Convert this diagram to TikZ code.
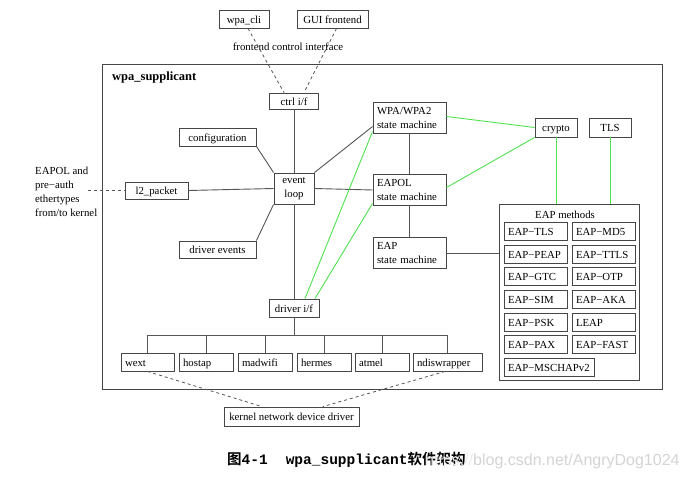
\documentclass[tikz,border=0pt]{standalone}
\usepackage{fontspec}
\setmainfont{Liberation Serif}
\newfontfamily\cjk{Noto Sans CJK SC}[BoldFont={Noto Sans CJK SC Bold}]
\newfontfamily\capmono{Liberation Mono}
\newfontfamily\wmfont{Liberation Sans}
\usetikzlibrary{calc}
\definecolor{linegray}{RGB}{85,85,85}
\definecolor{boxgray}{RGB}{70,70,70}
\definecolor{lgreen}{RGB}{80,225,80}
\definecolor{wmgray}{RGB}{212,212,212}
\definecolor{wmlight}{RGB}{238,238,238}
\tikzset{
 mbox/.style={draw=boxgray, line width=0.9pt, rectangle, inner sep=0pt, font=\fontsize{10.8}{13.5}\selectfont},
 box/.style={mbox, text height=9.5pt, text depth=1pt},
 lbox/.style={box, align=left, inner xsep=4pt, inner ysep=0pt},
 mlbox/.style={mbox, align=left, inner xsep=4pt, inner ysep=0pt, yshift=-1.5pt},
 txt/.style={inner sep=0pt, font=\fontsize{10.8}{13.5}\selectfont},
 conn/.style={draw=linegray, line width=0.9pt},
 gconn/.style={draw=lgreen, line width=0.9pt},
 dconn/.style={draw=linegray, line width=0.8pt, dash pattern=on 3pt off 3pt},
}
\begin{document}
\begin{tikzpicture}[x=1pt,y=-1pt]
\useasboundingbox[fill=white] (0,0) rectangle (686,481);

% frontends
\node[box, minimum width=50, minimum height=18] (cli) at (244,19) {wpa\_cli};
\node[box, minimum width=71, minimum height=18] (gui) at (332.5,19) {GUI frontend};
\node[txt] (fci) at (288,47) {frontend control interface};

% container
\node[mbox, minimum width=560, minimum height=325, anchor=north west] (sup) at (102,64) {};
\node[anchor=west, inner sep=0pt, font=\bfseries\fontsize{12.5}{14}\selectfont] (suplabel) at (112,77) {wpa\_supplicant};

\node[box, minimum width=49, minimum height=16] (ctrl) at (294,101) {ctrl i/f};
\node[box, minimum width=77, minimum height=18] (conf) at (217.5,137) {configuration};
\node[box, minimum width=63, minimum height=17] (l2) at (156.5,190.5) {l2\_packet};
\node[mbox, minimum width=40, minimum height=31, align=center] (evt) at (294,188.5) {event\\loop};
\node[box, minimum width=77, minimum height=17] (dev) at (217.5,249.5) {driver events};

\node[mlbox, text width=65pt, minimum height=31] (wpa) at (409.5,116.5) {WPA/WPA2\\state machine};
\node[mlbox, text width=65pt, minimum height=31] (eapol) at (409.5,188.5) {EAPOL\\state machine};
\node[mlbox, text width=65pt, minimum height=31] (eap) at (409.5,251.5) {EAP\\state machine};

\node[box, minimum width=42, minimum height=19] (crypto) at (556,127.5) {crypto};
\node[box, minimum width=42, minimum height=19] (tls) at (610,127.5) {TLS};

% EAP methods
\node[mbox, minimum width=140, minimum height=176, anchor=north west] (eapm) at (499,204) {};
\node[txt] (eapmt) at (565,215) {EAP methods};
\node[lbox, text width=55pt, minimum height=18] (m1) at (535.5,231) {EAP−TLS};
\node[lbox, text width=55pt, minimum height=18] (m2) at (603.5,231) {EAP−MD5};
\node[lbox, text width=55pt, minimum height=18] (m3) at (535.5,254) {EAP−PEAP};
\node[lbox, text width=55pt, minimum height=18] (m4) at (603.5,254) {EAP−TTLS};
\node[lbox, text width=55pt, minimum height=18] (m5) at (535.5,276.5) {EAP−GTC};
\node[lbox, text width=55pt, minimum height=18] (m6) at (603.5,276.5) {EAP−OTP};
\node[lbox, text width=55pt, minimum height=18] (m7) at (535.5,299) {EAP−SIM};
\node[lbox, text width=55pt, minimum height=18] (m8) at (603.5,299) {EAP−AKA};
\node[lbox, text width=55pt, minimum height=18] (m9) at (535.5,322) {EAP−PSK};
\node[lbox, text width=55pt, minimum height=18] (m10) at (603.5,322) {LEAP};
\node[lbox, text width=55pt, minimum height=18] (m11) at (535.5,344.5) {EAP−PAX};
\node[lbox, text width=55pt, minimum height=18] (m12) at (603.5,344.5) {EAP−FAST};
\node[lbox, text width=82pt, minimum height=18] (m13) at (549,367) {EAP−MSCHAPv2};

% driver side
\node[box, minimum width=50, minimum height=18] (drv) at (294,308) {driver i/f};
\node[lbox, text width=45pt, minimum height=18] (wext) at (147.5,362) {wext};
\node[lbox, text width=46pt, minimum height=18] (hostap) at (206,362) {hostap};
\node[lbox, text width=46pt, minimum height=18] (madwifi) at (265,362) {madwifi};
\node[lbox, text width=46pt, minimum height=18] (hermes) at (324,362) {hermes};
\node[lbox, text width=46pt, minimum height=18] (atmel) at (382,362) {atmel};
\node[lbox, text width=61pt, minimum height=18] (ndis) at (447.5,362) {ndiswrapper};
\node[box, minimum width=135, minimum height=19] (kern) at (291.5,416.5) {kernel network device driver};

% external label
\node[txt, anchor=north west, align=left, font=\fontsize{10.8}{14}\selectfont] (ext) at (35,167) {EAPOL and\\pre−auth\\ethertypes\\from/to kernel};
\coordinate (extend) at (88,190.5);
\coordinate (bus) at (294,335);

% connectors
\draw[dconn] ([xshift=4pt]cli.south) -- ([xshift=-10pt]ctrl.north);
\draw[dconn] ([xshift=4pt]gui.south) -- ([xshift=10pt]ctrl.north);
\draw[conn] (ctrl.south) -- (evt.north);
\draw[conn] (evt.south) -- (drv.north);
\draw[conn] (conf.south east) -- (evt.north west);
\draw[conn] (dev.north east) -- (evt.south west);
\draw[conn] (l2.east) -- (evt.west);
\draw[dconn] (extend) -- (l2.west);
\draw[conn] (evt.north east) -- ([yshift=-8.5pt]wpa.west);
\draw[conn] (evt.east) -- (eapol.west);
\draw[conn] (wpa.south) -- (eapol.north);
\draw[conn] (eapol.south) -- (eap.north);
\draw[conn] (eap.east) -- (eap.east -| eapm.west);

\draw[gconn] ([yshift=1.5pt]wpa.east) -- (crypto.west);
\draw[gconn] ([yshift=2.5pt]eapol.east) -- (crypto.south west);
\draw[gconn] (crypto.south) -- (crypto.south |- eapm.north);
\draw[gconn] (tls.south) -- (tls.south |- eapm.north);
\draw[gconn] ([yshift=-13.5pt]wpa.west) -- ([xshift=11pt]drv.north);
\draw[gconn] ([yshift=-13.5pt]eapol.west) -- ([xshift=21pt]drv.north);

\draw[conn] (drv.south) -- (bus);
\draw[conn] (wext.north) -- (wext.north |- bus) -- (ndis.north |- bus) -- (ndis.north);
\foreach \n in {hostap,madwifi,hermes,atmel} \draw[conn] (\n.north) -- (\n.north |- bus);
\draw[dconn] (wext.south) -- ([xshift=-29.5pt]kern.north);
\draw[dconn] ([xshift=-2.5pt]ndis.south) -- ([xshift=31.5pt]kern.north);

% caption
\node[anchor=west, inner sep=0pt] (cap) at (227,460) {{\cjk\bfseries\fontsize{14.5}{16}\selectfont 图}{\capmono\bfseries\fontsize{14.5}{16}\selectfont 4-1}\hspace{18pt}{\capmono\bfseries\fontsize{14.5}{16}\selectfont wpa\_supplicant}{\cjk\bfseries\fontsize{14.5}{16}\selectfont 软件架构}};
\node[anchor=west, inner sep=0pt, font=\wmfont\fontsize{16}{18}\selectfont] (wm) at (425,461) {\textcolor{wmlight}{https://}\textcolor{wmgray}{blog.csdn.net/AngryDog1024}};
\end{tikzpicture}
\end{document}
